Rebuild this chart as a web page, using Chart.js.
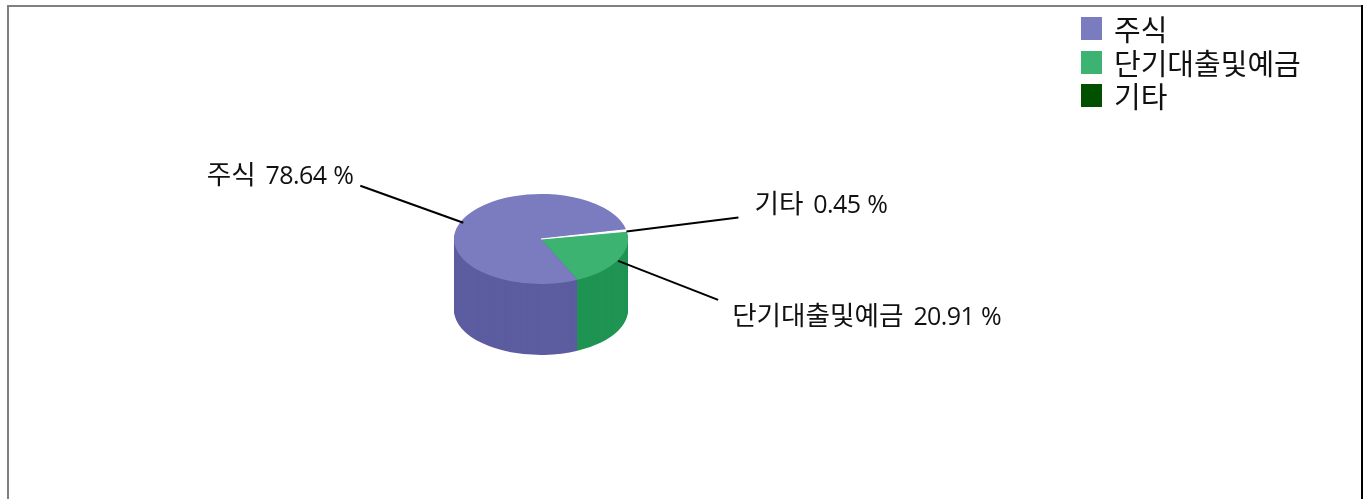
<!DOCTYPE html>
<html><head><meta charset="utf-8">
<style>html,body{margin:0;padding:0;background:#fff;overflow:hidden}canvas{display:block}</style>
<script src="https://cdn.jsdelivr.net/npm/chart.js@4"></script>
</head><body><canvas id="c" width="1369" height="499"></canvas>
<script>
const categories = ['기타', '단기대출및예금', '주식'];
const values = [0.45, 20.91, 78.64];
const legendColors = ['#005000', '#3CB371', '#7B7BBF'];
const topColors = ['#FFFFFF', '#3CB371', '#7B7BBF'];
const sideColors = ['#FFFFFF', '#1F9453', '#5C5CA0'];

const LATIN = '"Open Sans",sans-serif';
const FONT = '"Open Sans","Noto Sans CJK KR",sans-serif';
const SQUASH = 45 / 87, DEPTH = 71;
// leader-line length and label offset per slice, relative to its rim anchor
const leaders = [
  {sy: 1, dx: 112, dy: -14, tx: 128, ty: -25, align: 'left'},
  {sy: 1, dx: 100, dy: 39, tx: 114, ty: 58, align: 'left'},
  {sy: 4, dx: -103, dy: -37, tx: -110, ty: -42, align: 'right'}
];
const legendBox = {x: 1081, top: 17, step: 33.5, w: 21, h: 23, textX: 1114, textDy: 16, size: 29};

const pie3d = {
  id: 'pie3d',
  beforeDraw(chart) {
    const c = chart.ctx;
    c.save();
    c.fillStyle = '#808080';
    c.fillRect(7, 5, 1355, 2);
    c.fillRect(7, 5, 2, 494);
    c.fillStyle = '#000';
    c.fillRect(1361, 5, 2, 494);
    c.restore();
  },
  beforeDatasetsDraw(chart) {
    const c = chart.ctx, arcs = chart.getDatasetMeta(0).data;
    const {x: cx, y: cy} = arcs[0];
    for (let d = DEPTH; d > 0; d--) {
      arcs.forEach((a, i) => {
        c.save();
        c.translate(cx, cy + d);
        c.scale(1, SQUASH);
        c.fillStyle = sideColors[i];
        c.beginPath();
        c.moveTo(0, 0);
        c.arc(0, 0, a.outerRadius, a.startAngle, a.endAngle);
        c.closePath();
        c.fill();
        c.restore();
      });
    }
    c.save();
    c.translate(cx, cy);
    c.scale(1, SQUASH);
    c.translate(-cx, -cy);
  },
  afterDatasetsDraw(chart) {
    const c = chart.ctx, arcs = chart.getDatasetMeta(0).data;
    arcs[0].draw(c);
    c.restore();
    arcs.forEach((a, i) => {
      const mid = (a.startAngle + a.endAngle) / 2;
      const ax = a.x + a.outerRadius * Math.cos(mid);
      const ay = a.y + a.outerRadius * SQUASH * Math.sin(mid);
      const l = leaders[i];
      const sy = ay + l.sy;
      c.save();
      c.strokeStyle = '#000';
      c.lineWidth = 2;
      c.beginPath();
      c.moveTo(ax, sy);
      c.lineTo(ax + l.dx, sy + l.dy);
      c.stroke();
      c.fillStyle = '#111';
      c.textAlign = 'left';
      c.textBaseline = 'middle';
      const name = categories[i], val = values[i].toFixed(2) + ' %';
      const setName = () => { c.font = '26.6px ' + FONT; c.letterSpacing = '0px'; c.wordSpacing = '0px'; };
      const setVal = () => { c.font = '25px ' + LATIN; c.letterSpacing = '-0.6px'; c.wordSpacing = '1px'; };
      setName();
      const nw = c.measureText(name).width;
      setVal();
      const vw = c.measureText(val).width;
      const gap = 10;
      const x0 = l.align === 'right' ? ax + l.tx - (nw + gap + vw) : ax + l.tx;
      const ty = ay + l.ty;
      setName();
      c.fillText(name, x0, ty);
      setVal();
      c.fillText(val, x0 + nw + gap, ty);
      c.restore();
    });
    // legend, first slice listed last
    c.save();
    c.textAlign = 'left';
    c.textBaseline = 'middle';
    c.font = legendBox.size + 'px ' + FONT;
    categories.slice().reverse().forEach((t, k) => {
      const i = categories.length - 1 - k;
      const y = legendBox.top + k * legendBox.step;
      c.fillStyle = legendColors[i];
      c.fillRect(legendBox.x, Math.round(y), legendBox.w, legendBox.h);
      c.fillStyle = '#111';
      c.fillText(t, legendBox.textX, y + legendBox.textDy);
    });
    c.restore();
  }
};

new Chart(document.getElementById('c'), {
  type: 'pie',
  plugins: [pie3d],
  data: {
    labels: categories,
    datasets: [{
      data: values,
      backgroundColor: topColors,
      borderColor: '#FFFFFF',
      borderWidth: [2, 0, 0],
      radius: 87
    }]
  },
  options: {
    responsive: false,
    animation: false,
    rotation: 78.3,
    layout: {padding: {left: 0, right: 287, top: 0, bottom: 21}},
    plugins: {
      tooltip: {enabled: false},
      legend: {display: false}
    }
  }
});
</script></body></html>
